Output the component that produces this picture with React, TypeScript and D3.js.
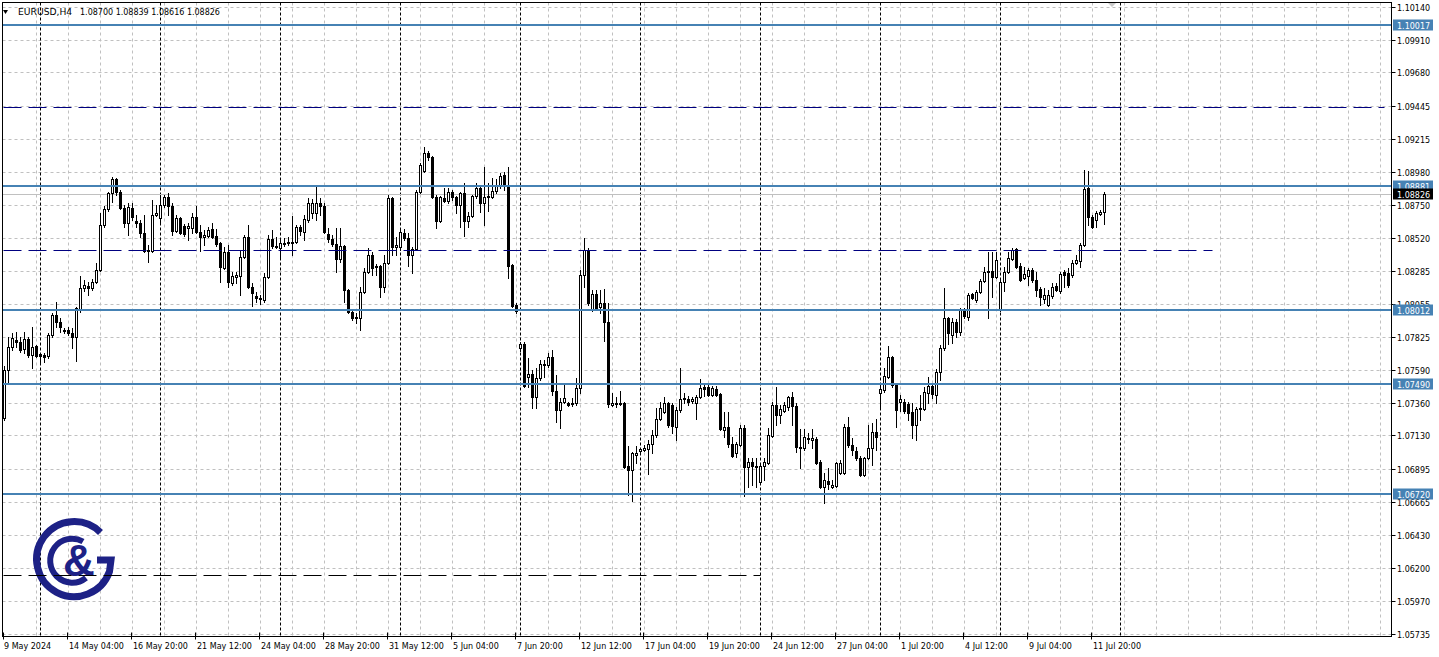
import React from 'react';
import * as d3 from 'd3';

// ---------- data (EURUSD H4) ----------
const opens = [
1.07252,1.07589,1.07751,1.07800,1.07786,1.07737,1.07807,1.07695,1.07758,1.07702,
1.07695,1.07688,1.07835,1.07976,1.07927,1.07870,1.07870,1.07849,1.07821,1.08018,
1.08166,1.08180,1.08166,1.08208,1.08292,1.08608,1.08721,1.08833,1.08931,1.08840,
1.08728,1.08622,1.08728,1.08636,1.08622,1.08552,1.08425,1.08425,1.08678,1.08657,
1.08749,1.08805,1.08742,1.08566,1.08657,1.08601,1.08587,1.08587,1.08664,1.08559,
1.08524,1.08531,1.08580,1.08531,1.08482,1.08306,1.08418,1.08201,1.08243,1.08250,
1.08383,1.08524,1.08173,1.08109,1.08088,1.08081,1.08243,1.08510,1.08461,1.08447,
1.08475,1.08482,1.08482,1.08489,1.08594,1.08559,1.08643,1.08692,1.08692,1.08763,
1.08742,1.08545,1.08510,1.08475,1.08369,1.08461,1.08151,1.07997,1.07955,1.07955,
1.08137,1.08278,1.08397,1.08313,1.08320,1.08173,1.08341,1.08798,1.08454,1.08454,
1.08552,1.08517,1.08397,1.08440,1.08840,1.08988,1.09114,1.09086,1.08805,1.08636,
1.08798,1.08777,1.08840,1.08805,1.08749,1.08833,1.08636,1.08671,1.08812,1.08868,
1.08763,1.08805,1.08805,1.08847,1.08889,1.08959,1.08875,1.08327,1.08046,1.07744,
1.07772,1.07540,1.07561,1.07400,1.07533,1.07625,1.07625,1.07681,1.07442,1.07308,
1.07365,1.07358,1.07350,1.07358,1.07463,1.08257,1.08432,1.08011,1.08123,1.08032,
1.08060,1.07927,1.07343,1.07350,1.07350,1.07358,1.06915,1.06887,1.06992,1.07020,
1.07027,1.07034,1.07069,1.07133,1.07245,1.07294,1.07358,1.07343,1.07189,1.07308,
1.07386,1.07386,1.07372,1.07358,1.07400,1.07470,1.07470,1.07414,1.07456,1.07421,
1.07168,1.07189,1.07069,1.07006,1.07062,1.07182,1.06908,1.06943,1.06908,1.06802,
1.06915,1.06936,1.07126,1.07343,1.07273,1.07301,1.07329,1.07400,1.07336,1.07041,
1.07041,1.07105,1.07098,1.07105,1.06943,1.06767,1.06809,1.06767,1.06774,1.06866,
1.06866,1.07189,1.07062,1.07020,1.06971,1.06852,1.06971,1.07041,1.07154,1.07428,
1.07449,1.07540,1.07681,1.07484,1.07365,1.07365,1.07350,1.07294,1.07203,1.07315,
1.07315,1.07428,1.07477,1.07414,1.07575,1.07744,1.07955,1.07835,1.07927,1.07856,
1.08011,1.07962,1.08123,1.08081,1.08137,1.08215,1.08278,1.08285,1.08243,1.08011,
1.08208,1.08278,1.08369,1.08440,1.08320,1.08236,1.08250,1.08292,1.08222,1.08158,
1.08088,1.08046,1.08109,1.08180,1.08144,1.08278,1.08271,1.08257,1.08341,1.08355,
1.08468,1.08868,1.08664,1.08643,1.08685,1.08700];
const highs = [
1.07617,1.07821,1.07849,1.07856,1.07821,1.07856,1.07821,1.07891,1.07765,1.07709,
1.07709,1.07849,1.07990,1.08067,1.07955,1.07884,1.07891,1.07884,1.08032,1.08250,
1.08222,1.08208,1.08229,1.08341,1.08692,1.08742,1.08840,1.08945,1.08938,1.08854,
1.08749,1.08763,1.08763,1.08678,1.08643,1.08678,1.08468,1.08784,1.08749,1.08819,
1.08819,1.08833,1.08763,1.08678,1.08664,1.08615,1.08622,1.08692,1.08742,1.08608,
1.08573,1.08594,1.08622,1.08580,1.08489,1.08454,1.08468,1.08278,1.08278,1.08432,
1.08538,1.08608,1.08201,1.08137,1.08116,1.08271,1.08538,1.08573,1.08524,1.08510,
1.08517,1.08524,1.08671,1.08608,1.08608,1.08678,1.08798,1.08791,1.08889,1.08798,
1.08763,1.08587,1.08538,1.08587,1.08587,1.08468,1.08158,1.08004,1.07990,1.08173,
1.08306,1.08447,1.08418,1.08334,1.08327,1.08397,1.08819,1.08805,1.08524,1.08580,
1.08580,1.08552,1.08454,1.08854,1.09044,1.09156,1.09128,1.09093,1.08819,1.08812,
1.08868,1.08868,1.08854,1.08812,1.08840,1.08903,1.08699,1.08819,1.08903,1.08875,
1.09016,1.08903,1.08938,1.08931,1.08974,1.08981,1.09016,1.08334,1.08060,1.07786,
1.07786,1.07674,1.07589,1.07603,1.07660,1.07660,1.07709,1.07730,1.07554,1.07393,
1.07484,1.07365,1.07393,1.07533,1.08292,1.08517,1.08447,1.08151,1.08151,1.08151,
1.08158,1.08060,1.07428,1.07400,1.07442,1.07365,1.07055,1.07013,1.07055,1.07041,
1.07062,1.07098,1.07168,1.07322,1.07365,1.07400,1.07365,1.07358,1.07329,1.07603,
1.07428,1.07407,1.07400,1.07414,1.07526,1.07498,1.07484,1.07477,1.07477,1.07428,
1.07294,1.07294,1.07119,1.07084,1.07203,1.07203,1.06971,1.06971,1.06971,1.06936,
1.06971,1.07182,1.07365,1.07470,1.07343,1.07365,1.07407,1.07435,1.07358,1.07175,
1.07175,1.07147,1.07175,1.07119,1.06957,1.06866,1.06901,1.06817,1.06943,1.06957,
1.07210,1.07259,1.07112,1.07048,1.06985,1.06978,1.07203,1.07217,1.07245,1.07498,
1.07603,1.07758,1.07688,1.07498,1.07414,1.07386,1.07365,1.07358,1.07329,1.07414,
1.07470,1.07540,1.07484,1.07596,1.07765,1.08166,1.07962,1.07955,1.07948,1.08025,
1.08025,1.08130,1.08130,1.08151,1.08229,1.08313,1.08418,1.08418,1.08418,1.08222,
1.08313,1.08418,1.08447,1.08447,1.08341,1.08313,1.08306,1.08306,1.08278,1.08173,
1.08166,1.08151,1.08201,1.08201,1.08278,1.08292,1.08306,1.08362,1.08397,1.08482,
1.08995,1.08988,1.08678,1.08707,1.08714,1.08839];
const lows = [
1.07238,1.07498,1.07730,1.07751,1.07716,1.07709,1.07681,1.07603,1.07681,1.07646,
1.07646,1.07674,1.07821,1.07891,1.07856,1.07849,1.07835,1.07744,1.07653,1.07997,
1.08144,1.08116,1.08151,1.08201,1.08285,1.08594,1.08707,1.08770,1.08819,1.08721,
1.08594,1.08538,1.08643,1.08594,1.08524,1.08418,1.08348,1.08418,1.08671,1.08629,
1.08735,1.08678,1.08538,1.08559,1.08545,1.08531,1.08503,1.08552,1.08552,1.08425,
1.08468,1.08524,1.08517,1.08461,1.08208,1.08299,1.08173,1.08187,1.08201,1.08116,
1.08376,1.08166,1.08039,1.08067,1.08053,1.08067,1.08236,1.08447,1.08447,1.08383,
1.08461,1.08468,1.08397,1.08482,1.08538,1.08503,1.08629,1.08657,1.08643,1.08678,
1.08552,1.08489,1.08461,1.08278,1.08348,1.08067,1.07990,1.07941,1.07920,1.07870,
1.08130,1.08271,1.08257,1.08257,1.08102,1.08137,1.08334,1.08397,1.08397,1.08432,
1.08503,1.08320,1.08271,1.08432,1.08833,1.08981,1.09065,1.08798,1.08587,1.08629,
1.08770,1.08763,1.08784,1.08692,1.08594,1.08531,1.08594,1.08664,1.08798,1.08699,
1.08608,1.08707,1.08798,1.08833,1.08868,1.08854,1.08236,1.08032,1.07990,1.07723,
1.07470,1.07470,1.07322,1.07322,1.07519,1.07540,1.07610,1.07414,1.07224,1.07182,
1.07358,1.07336,1.07336,1.07343,1.07428,1.08173,1.08046,1.08004,1.08018,1.07990,
1.07793,1.07329,1.07336,1.07329,1.07343,1.06901,1.06711,1.06669,1.06936,1.07013,
1.07020,1.06859,1.07006,1.07119,1.07238,1.07287,1.07189,1.07147,1.07098,1.07294,
1.07358,1.07343,1.07358,1.07245,1.07393,1.07407,1.07407,1.07407,1.07407,1.07168,
1.07119,1.07048,1.06978,1.06978,1.07055,1.06704,1.06767,1.06781,1.06767,1.06795,
1.06817,1.06929,1.07119,1.07203,1.07217,1.07294,1.07308,1.07203,1.07013,1.06901,
1.07027,1.07076,1.07041,1.06929,1.06760,1.06655,1.06753,1.06760,1.06767,1.06859,
1.06859,1.07048,1.06992,1.06957,1.06845,1.06845,1.06964,1.06922,1.07027,1.07329,
1.07435,1.07533,1.07470,1.07189,1.07301,1.07287,1.07238,1.07112,1.07098,1.07238,
1.07308,1.07358,1.07393,1.07358,1.07519,1.07730,1.07772,1.07779,1.07821,1.07835,
1.07955,1.07941,1.08088,1.08067,1.08130,1.08208,1.07955,1.08102,1.08236,1.08004,
1.08144,1.08271,1.08362,1.08306,1.08215,1.08229,1.08187,1.08208,1.08109,1.08046,
1.08060,1.08039,1.08095,1.08144,1.08130,1.08173,1.08173,1.08243,1.08334,1.08313,
1.08461,1.08608,1.08587,1.08594,1.08678,1.08616];
const closes = [
1.07589,1.07751,1.07814,1.07786,1.07730,1.07807,1.07695,1.07751,1.07688,1.07688,
1.07681,1.07835,1.07976,1.07927,1.07891,1.07863,1.07849,1.07821,1.08025,1.08166,
1.08187,1.08166,1.08208,1.08292,1.08608,1.08721,1.08833,1.08931,1.08840,1.08728,
1.08622,1.08735,1.08664,1.08622,1.08552,1.08425,1.08432,1.08678,1.08692,1.08749,
1.08805,1.08742,1.08566,1.08657,1.08552,1.08545,1.08601,1.08664,1.08559,1.08524,
1.08538,1.08573,1.08524,1.08475,1.08313,1.08418,1.08208,1.08250,1.08257,1.08383,
1.08524,1.08173,1.08130,1.08095,1.08095,1.08243,1.08510,1.08461,1.08454,1.08482,
1.08482,1.08489,1.08489,1.08594,1.08566,1.08650,1.08763,1.08763,1.08763,1.08742,
1.08559,1.08510,1.08475,1.08369,1.08461,1.08151,1.07997,1.07955,1.07962,1.08137,
1.08278,1.08397,1.08306,1.08320,1.08173,1.08341,1.08798,1.08454,1.08468,1.08559,
1.08517,1.08397,1.08440,1.08840,1.09030,1.09114,1.09086,1.08805,1.08636,1.08805,
1.08777,1.08840,1.08805,1.08749,1.08833,1.08636,1.08671,1.08812,1.08868,1.08763,
1.08805,1.08812,1.08847,1.08889,1.08952,1.08882,1.08320,1.08039,1.08004,1.07772,
1.07477,1.07561,1.07400,1.07533,1.07632,1.07632,1.07681,1.07442,1.07308,1.07365,
1.07393,1.07343,1.07358,1.07463,1.08257,1.08432,1.08060,1.08123,1.08025,1.08060,
1.07927,1.07350,1.07358,1.07358,1.07358,1.06908,1.06887,1.07006,1.07006,1.07034,
1.07041,1.07069,1.07133,1.07245,1.07322,1.07358,1.07203,1.07196,1.07308,1.07386,
1.07393,1.07365,1.07386,1.07400,1.07463,1.07456,1.07414,1.07463,1.07414,1.07175,
1.07189,1.07069,1.06985,1.07069,1.07182,1.06908,1.06943,1.06915,1.06915,1.06915,
1.06943,1.07133,1.07343,1.07273,1.07315,1.07343,1.07400,1.07336,1.07048,1.07048,
1.07119,1.07112,1.07112,1.06936,1.06767,1.06817,1.06788,1.06781,1.06936,1.06936,
1.07189,1.07062,1.07027,1.06971,1.06852,1.06971,1.07041,1.07154,1.07119,1.07456,
1.07547,1.07681,1.07484,1.07308,1.07386,1.07301,1.07287,1.07203,1.07315,1.07322,
1.07435,1.07477,1.07421,1.07575,1.07744,1.07955,1.07849,1.07927,1.07856,1.08011,
1.07969,1.08116,1.08095,1.08137,1.08215,1.08278,1.08285,1.08243,1.08362,1.08208,
1.08278,1.08376,1.08432,1.08313,1.08222,1.08264,1.08292,1.08222,1.08151,1.08102,
1.08116,1.08116,1.08173,1.08151,1.08264,1.08257,1.08187,1.08341,1.08362,1.08468,
1.08861,1.08664,1.08594,1.08692,1.08699,1.08826];

const priceTicks = [1.10140, 1.09910, 1.09680, 1.09445, 1.09215, 1.08980, 1.08750, 1.08520, 1.08285, 1.08055,
  1.07825, 1.07590, 1.07360, 1.07130, 1.06895, 1.06665, 1.06430, 1.06200, 1.05970, 1.05735];
const timeLabels = ['9 May 2024', '14 May 04:00', '16 May 20:00', '21 May 12:00', '24 May 04:00', '28 May 20:00',
  '31 May 12:00', '5 Jun 04:00', '7 Jun 20:00', '12 Jun 12:00', '17 Jun 04:00', '19 Jun 20:00', '24 Jun 12:00',
  '27 Jun 04:00', '1 Jul 20:00', '4 Jul 12:00', '9 Jul 04:00', '11 Jul 20:00'];
const labelEvery = 16; // bars between time labels
const gridEvery = 8;   // bars between vertical grid lines
const levelLines = [1.10017, 1.08881, 1.08012, 1.07490, 1.06720];
const dashedLines = [
  { price: 1.09437, i1: 0, i2: 345, color: '#000080' },
  { price: 1.08432, i1: 0, i2: 302, color: '#000080' },
  { price: 1.06149, i1: 0, i2: 189, color: '#000000' },
];
const currentPrice = 1.08826;
const symbolText = 'EURUSD,H4';
const ohlcText = '1.08700 1.08839 1.08616 1.08826';
const startTime = new Date(Date.UTC(2024, 4, 9, 12));

const FONT = 'DejaVu Sans';

export default function App() {
  const W = 1439, H = 657;
  const L = 2.5, T = 2.5, R = 1391.5, B = 636.5;
  const n = opens.length;

  const y = d3.scaleLinear().domain([1.05735, 1.10140]).range([634, 7]);
  const x = d3.scaleLinear().domain([0, 1]).range([4.5, 8.5]);
  const maxIdx = Math.floor(x.invert(R - 2));

  // bar times (weekends skipped)
  const times: Date[] = [];
  let t = startTime;
  for (let i = 0; i <= maxIdx; i++) {
    times.push(t);
    let nx = d3.utcHour.offset(t, 4);
    if (nx.getUTCDay() === 6) nx = d3.utcDay.offset(nx, 2);
    t = nx;
  }
  const separators = times
    .map((d, i) => ({ d, i }))
    .filter(({ d, i }) => d.getUTCDay() === 1 && d.getUTCHours() === 0 && i <= n + 6)
    .map(({ i }) => i);

  const yr = (p: number) => Math.round(y(p));
  const gridX = d3.range(gridEvery, maxIdx + 1, gridEvery);

  const candles = opens.map((o, i) => {
    const c = closes[i], h = highs[i], l = lows[i];
    const cx = x(i);
    const yo = yr(o), yc = yr(c), yh = yr(h), yl = yr(l);
    const bull = c >= o;
    const top = Math.min(yo, yc), bot = Math.max(yo, yc);
    return (
      <g key={i}>
        <line x1={cx} x2={cx} y1={yh} y2={yl + 1} stroke="#000" strokeWidth={1} />
        {bot - top < 1 ? (
          <line x1={cx - 1.5} x2={cx + 1.5} y1={top + 0.5} y2={top + 0.5} stroke="#000" strokeWidth={1} />
        ) : bull ? (
          <rect x={cx - 1} y={top + 0.5} width={2} height={bot - top} fill="#fff" stroke="#000" strokeWidth={1} />
        ) : (
          <rect x={cx - 1.5} y={top} width={3} height={bot - top + 1} fill="#000" />
        )}
      </g>
    );
  });

  const boxLabel = (p: number, bg: string, key: string) => {
    const yy = yr(p);
    return (
      <g key={key}>
        <rect x={1393} y={yy - 5.5} width={40} height={11} fill={bg} />
        <text x={1397} y={yy + 3.5} fontSize={8} fontFamily={FONT} fill="#fff">
          {p.toFixed(5)}
        </text>
      </g>
    );
  };

  const navy = '#1d2186';

  return (
    <svg width={W} height={H} style={{ position: 'absolute', left: 0, top: 0, background: '#fff' }}>
      <rect x={0} y={0} width={W} height={H} fill="#fff" />
      <defs>
        <clipPath id="plot">
          <rect x={L} y={T} width={R - L} height={B - T} />
        </clipPath>
      </defs>

      <g clipPath="url(#plot)">
        {/* horizontal grid */}
        {priceTicks.map((p) => (
          <line key={'hg' + p} x1={L} x2={R} y1={yr(p) + 0.5} y2={yr(p) + 0.5}
            stroke="#c0c0c0" strokeDasharray="3,3" strokeWidth={1} />
        ))}
        {/* vertical grid */}
        {gridX.map((i) => (
          <line key={'vg' + i} x1={x(i)} x2={x(i)} y1={T} y2={B}
            stroke="#c0c0c0" strokeDasharray="3,3" strokeWidth={1} />
        ))}
        {/* week separators */}
        {separators.map((i) => (
          <line key={'sep' + i} x1={x(i)} x2={x(i)} y1={T} y2={B}
            stroke="#000" strokeDasharray="3,2" strokeWidth={1} />
        ))}

        {/* logo */}
        <g>
          <path d="M 100.5 532.5 A 37.5 37.5 0 1 0 109.5 571.5 L 111 560 L 97 560"
            fill="none" stroke={navy} strokeWidth={7} />
          <path d="M 83 541.5 A 22 22 0 1 0 86 577.8"
            fill="none" stroke={navy} strokeWidth={6} />
          <text x={79} y={576} fontSize={44} fontWeight="bold" fontFamily="Liberation Sans"
            textAnchor="middle" fill={navy}>&amp;</text>
        </g>

        {/* bid line */}
        <line x1={L} x2={R} y1={yr(currentPrice) + 0.5} y2={yr(currentPrice) + 0.5} stroke="#c0c0c0" strokeWidth={1} />

        {candles}

        {/* dashed lines */}
        {dashedLines.map((d, k) => (
          <line key={'dl' + k} x1={Math.max(L, x(d.i1) - 1)} x2={x(d.i2)}
            y1={yr(d.price) + 0.5} y2={yr(d.price) + 0.5}
            stroke={d.color} strokeWidth={1} strokeDasharray="18,7" />
        ))}
        {/* level lines */}
        {levelLines.map((p) => (
          <line key={'lv' + p} x1={L} x2={R} y1={yr(p)} y2={yr(p)} stroke="#4682b4" strokeWidth={2} />
        ))}
      </g>

      {/* frame */}
      <rect x={L} y={T} width={R - L} height={B - T} fill="none" stroke="#000" strokeWidth={1} />

      {/* price axis */}
      {priceTicks.map((p) => (
        <g key={'pt' + p}>
          <line x1={R} x2={R + 4} y1={yr(p) + 0.5} y2={yr(p) + 0.5} stroke="#000" />
          <text x={1397} y={yr(p) + 3.5} fontSize={8} fontFamily={FONT} fill="#000">{p.toFixed(5)}</text>
        </g>
      ))}
      {levelLines.map((p) => boxLabel(p, '#4682b4', 'bx' + p))}
      {boxLabel(currentPrice, '#000', 'cur')}

      {/* time axis */}
      {timeLabels.map((lab, k) => {
        const i = k * labelEvery;
        const xx = Math.round(x(i)) - 1.5;
        return (
          <g key={'tl' + k}>
            <line x1={xx} x2={xx} y1={B - 4} y2={B + 3} stroke="#000" />
            <text x={k === 0 ? 4 : xx + 1.5} y={649} fontSize={8} fontFamily={FONT} fill="#000">{lab}</text>
          </g>
        );
      })}

      {/* header */}
      <polygon points="3,10 8,10 5.5,14" fill="#000" />
      <text x={18} y={15} fontSize={9.2} fontFamily={FONT} fill="#000">{symbolText}</text>
      <text x={80} y={15} fontSize={8} fontFamily={FONT} fill="#000">{ohlcText}</text>

      {/* chart shift marker */}
      <polygon points="1108,3 1116,3 1112,7" fill="#c8c8c8" />
    </svg>
  );
}
